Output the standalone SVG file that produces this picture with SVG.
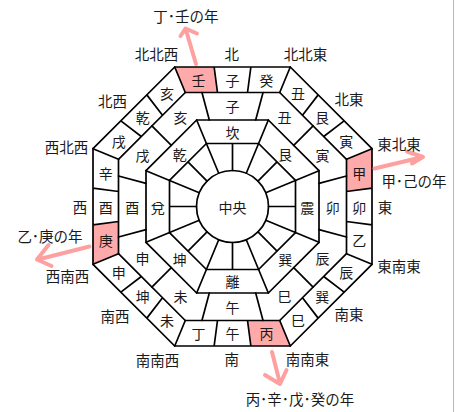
<svg xmlns="http://www.w3.org/2000/svg" xmlns:xlink="http://www.w3.org/1999/xlink" width="461" height="412" viewBox="0 0 461 412">
<style>
.ln{stroke:#000;stroke-width:1.7;fill:none;stroke-linecap:round;stroke-linejoin:round}
.pk{fill:#ffaaaa;stroke:none}
.t{font-family:"Noto Sans CJK JP","Noto Sans CJK SC",sans-serif;font-size:14px;fill:#1a1a1a;text-anchor:middle;dominant-baseline:central}
.o{font-size:14.5px}
.ar{stroke:#ffa0a0;stroke-width:4;fill:none;stroke-linecap:round;stroke-linejoin:round}
</style>
<defs>
<path id="sec" class="ln" d="M-57.78,-139.5H57.78 M-47.22,-114H47.22 M-35.83,-86.5H35.83 M-26.1,-63H26.1 M57.78,-139.5L47.22,-114 M35.83,-86.5L13.78,-33.26 M-18.37,-139.5L-15.01,-114 M18.37,-139.5L15.01,-114 M0,-63V-36"/>
<path id="side2" class="ln" d="M-30.55,-114L-23.18,-86.5 M30.55,-114L23.18,-86.5"/>
<path id="diag2" class="ln" d="M0,-114V-86.5"/>
<polygon id="pink" class="pk" points="-57.78,-139.5 -18.37,-139.5 -15.01,-114 -47.22,-114"/>
</defs>
<rect width="461" height="412" fill="#fff"/>
<line x1="453.5" y1="0" x2="453.5" y2="412" stroke="#b8b8b8" stroke-width="1"/>
<g id="highlights" transform="translate(232.5,206.5)">
<use xlink:href="#pink" href="#pink"/>
<use xlink:href="#pink" href="#pink" transform="rotate(90)"/>
<use xlink:href="#pink" href="#pink" transform="rotate(180)"/>
<use xlink:href="#pink" href="#pink" transform="rotate(270)"/>
</g>
<g id="connectors" transform="translate(232.5,206.5)">
<use xlink:href="#sec" href="#sec"/>
<use xlink:href="#sec" href="#sec" transform="rotate(45)"/>
<use xlink:href="#sec" href="#sec" transform="rotate(90)"/>
<use xlink:href="#sec" href="#sec" transform="rotate(135)"/>
<use xlink:href="#sec" href="#sec" transform="rotate(180)"/>
<use xlink:href="#sec" href="#sec" transform="rotate(225)"/>
<use xlink:href="#sec" href="#sec" transform="rotate(270)"/>
<use xlink:href="#sec" href="#sec" transform="rotate(315)"/>
<use xlink:href="#side2" href="#side2"/>
<use xlink:href="#side2" href="#side2" transform="rotate(90)"/>
<use xlink:href="#side2" href="#side2" transform="rotate(180)"/>
<use xlink:href="#side2" href="#side2" transform="rotate(270)"/>
<use xlink:href="#diag2" href="#diag2" transform="rotate(45)"/>
<use xlink:href="#diag2" href="#diag2" transform="rotate(135)"/>
<use xlink:href="#diag2" href="#diag2" transform="rotate(225)"/>
<use xlink:href="#diag2" href="#diag2" transform="rotate(315)"/>
<circle class="ln" cx="0" cy="0" r="36"/>
</g>
<g id="arrows">
<path class="ar" d="M196,64L185.5,28.5 M180.5,36L185.5,28.5L197,33.5"/>
<path class="ar" d="M374.5,168.5L423,157 M407,151.5L423,157L412,163.5"/>
<path class="ar" d="M89.5,246.5L38,259.5 M48.5,245L37,259.5L51.5,266"/>
<path class="ar" d="M272,352L280,383.5 M265,375L280,384L286.5,370"/>
</g>
<g id="outer-ring">
<g id="o-ko"><text class="t" x="232.5" y="79.75">子</text></g>
<g id="o-ki"><text class="t" x="266.46" y="79.75">癸</text></g>
<g id="o-ushi"><text class="t" x="298.11" y="92.86">丑</text></g>
<g id="o-gon"><text class="t" x="322.13" y="116.87">艮</text></g>
<g id="o-tora"><text class="t" x="346.14" y="140.89">寅</text></g>
<g id="o-kou"><text class="t" x="359.25" y="172.54">甲</text></g>
<g id="o-u"><text class="t" x="359.25" y="206.5">卯</text></g>
<g id="o-otsu"><text class="t" x="359.25" y="240.46">乙</text></g>
<g id="o-tatsu"><text class="t" x="346.14" y="272.11">辰</text></g>
<g id="o-son"><text class="t" x="322.13" y="296.13">巽</text></g>
<g id="o-mi"><text class="t" x="298.11" y="320.14">巳</text></g>
<g id="o-hei"><text class="t" x="266.46" y="333.25">丙</text></g>
<g id="o-uma"><text class="t" x="232.5" y="333.25">午</text></g>
<g id="o-tei"><text class="t" x="198.54" y="333.25">丁</text></g>
<g id="o-hitsuji"><text class="t" x="166.89" y="320.14">未</text></g>
<g id="o-kon"><text class="t" x="142.87" y="296.13">坤</text></g>
<g id="o-saru"><text class="t" x="118.86" y="272.11">申</text></g>
<g id="o-kou2"><text class="t" x="105.75" y="240.46">庚</text></g>
<g id="o-tori"><text class="t" x="105.75" y="206.5">酉</text></g>
<g id="o-shin"><text class="t" x="105.75" y="172.54">辛</text></g>
<g id="o-inu"><text class="t" x="118.86" y="140.89">戌</text></g>
<g id="o-ken"><text class="t" x="142.87" y="116.87">乾</text></g>
<g id="o-i"><text class="t" x="166.89" y="92.86">亥</text></g>
<g id="o-jin"><text class="t" x="198.54" y="79.75">壬</text></g>
</g>
<g id="middle-ring">
<g id="m-ko"><text class="t" x="232.5" y="106.25">子</text></g>
<g id="m-ushi"><text class="t" x="284.4" y="116.62">丑</text></g>
<g id="m-tora"><text class="t" x="322.38" y="154.6">寅</text></g>
<g id="m-u"><text class="t" x="332.75" y="206.5">卯</text></g>
<g id="m-tatsu"><text class="t" x="322.38" y="258.4">辰</text></g>
<g id="m-mi"><text class="t" x="284.4" y="296.38">巳</text></g>
<g id="m-uma"><text class="t" x="232.5" y="306.75">午</text></g>
<g id="m-hitsuji"><text class="t" x="180.6" y="296.38">未</text></g>
<g id="m-saru"><text class="t" x="142.62" y="258.4">申</text></g>
<g id="m-tori"><text class="t" x="132.25" y="206.5">酉</text></g>
<g id="m-inu"><text class="t" x="142.62" y="154.6">戌</text></g>
<g id="m-i"><text class="t" x="180.6" y="116.62">亥</text></g>
</g>
<g id="trigram-ring">
<g id="g-kan"><text class="t" x="232.5" y="131.75">坎</text></g>
<g id="g-gon"><text class="t" x="285.36" y="153.64">艮</text></g>
<g id="g-shin"><text class="t" x="307.25" y="206.5">震</text></g>
<g id="g-son"><text class="t" x="285.36" y="259.36">巽</text></g>
<g id="g-ri"><text class="t" x="232.5" y="281.25">離</text></g>
<g id="g-kon"><text class="t" x="179.64" y="259.36">坤</text></g>
<g id="g-da"><text class="t" x="157.75" y="206.5">兌</text></g>
<g id="g-ken"><text class="t" x="179.64" y="153.64">乾</text></g>
</g>
<g id="center"><text class="t" x="232.5" y="206.5">中央</text></g>
<g id="directions">
<g id="d-nnw"><text class="t o" x="156.5" y="53">北北西</text></g>
<g id="d-n"><text class="t o" x="231.7" y="53">北</text></g>
<g id="d-nne"><text class="t o" x="305.5" y="53">北北東</text></g>
<g id="d-nw"><text class="t o" x="112.5" y="100">北西</text></g>
<g id="d-ne"><text class="t o" x="349" y="98.5">北東</text></g>
<g id="d-wnw"><text class="t o" x="66.5" y="146.7">西北西</text></g>
<g id="d-w"><text class="t o" x="80" y="206.7">西</text></g>
<g id="d-wsw"><text class="t o" x="67.5" y="275">西南西</text></g>
<g id="d-sw"><text class="t o" x="115" y="315">南西</text></g>
<g id="d-ssw"><text class="t o" x="157.5" y="359">南南西</text></g>
<g id="d-s"><text class="t o" x="231.7" y="358.5">南</text></g>
<g id="d-sse"><text class="t o" x="307.5" y="358.5">南南東</text></g>
<g id="d-se"><text class="t o" x="349" y="313.5">南東</text></g>
<g id="d-ese"><text class="t o" x="399" y="265">東南東</text></g>
<g id="d-e"><text class="t o" x="385" y="206.7">東</text></g>
<g id="d-ene"><text class="t o" x="399" y="143.3">東北東</text></g>
</g>
<g id="year-labels">
<g id="y-n"><text class="t o" x="185.8" y="15.8">丁･壬の年</text></g>
<g id="y-e"><text class="t o" x="414" y="180">甲･己の年</text></g>
<g id="y-w"><text class="t o" x="50" y="235">乙･庚の年</text></g>
<g id="y-s"><text class="t o" x="300" y="398.3">丙･辛･戊･癸の年</text></g>
</g>
</svg>
